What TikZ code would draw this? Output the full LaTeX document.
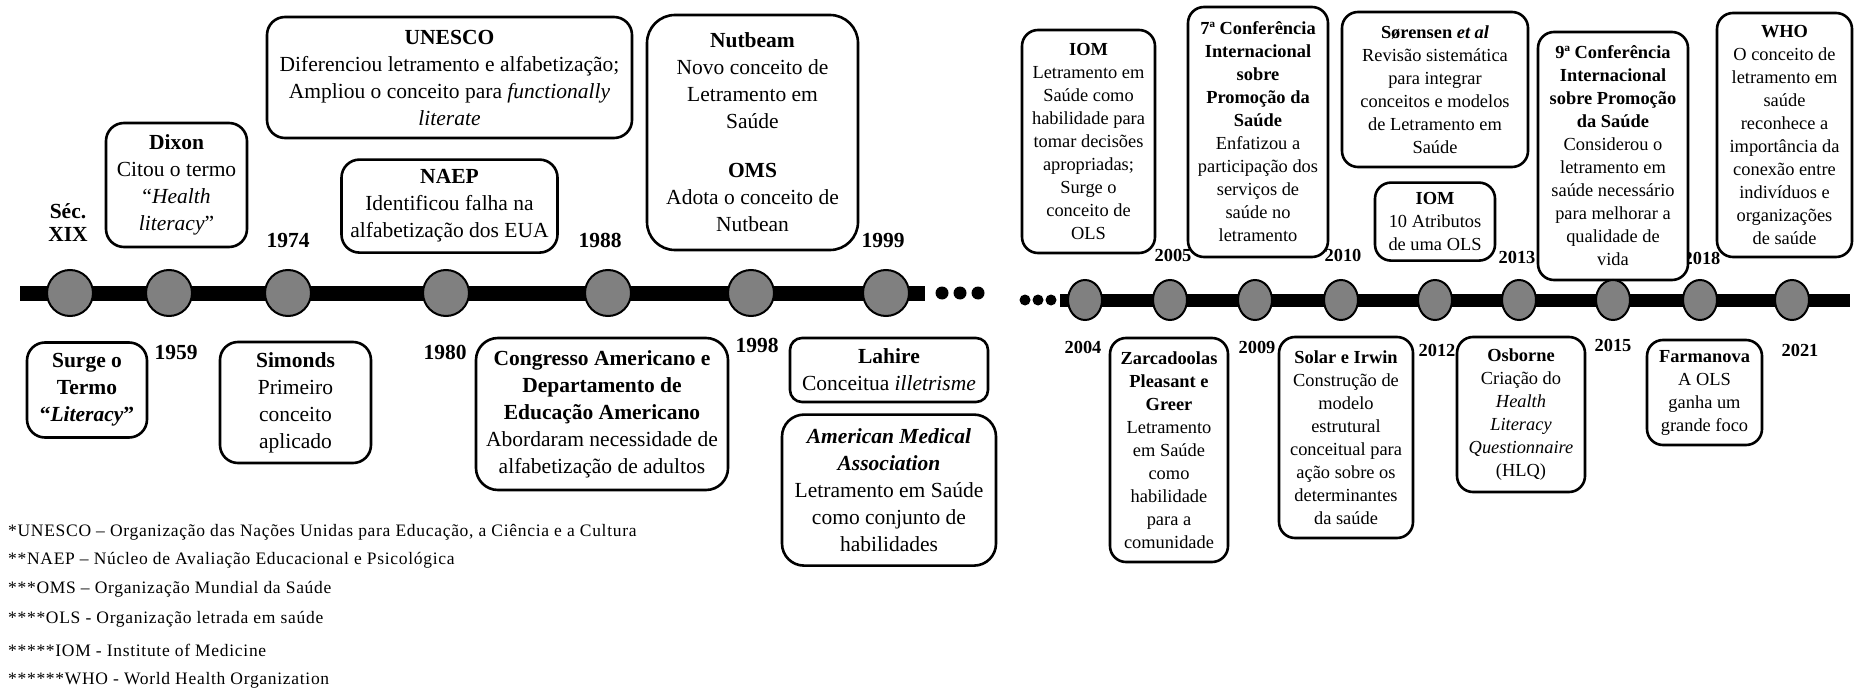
\documentclass[tikz,border=0pt]{standalone}
\usepackage{fontspec}
\setmainfont{Liberation Serif}
\newfontfamily\notefamily[LetterSpace=4]{Liberation Serif}
\usepackage{tikz}
\usetikzlibrary{shapes.geometric, positioning}
\definecolor{dotgray}{RGB}{128,128,128}
\newcommand{\bigtxt}{\fontsize{21.5bp}{27bp}\selectfont}
\newcommand{\smalltxt}{\fontsize{18.4bp}{23bp}\selectfont}
\newcommand{\notetxt}{\notefamily\fontsize{17.5bp}{20bp}\selectfont}
\tikzset{
  event/.style={rectangle, draw=black, fill=white, line width=2.6bp,
    rounded corners=18bp, align=center, inner sep=0pt, font=\bigtxt},
  smallevent/.style={event, rounded corners=16bp, font=\smalltxt},
  year/.style={inner sep=0pt, align=center,
    font=\fontsize{21.5bp}{23bp}\selectfont\bfseries},
  smallyear/.style={inner sep=0pt, font=\smalltxt\bfseries},
  bigdot/.style={circle, draw=black, fill=dotgray, line width=2bp,
    minimum size=46bp, inner sep=0pt},
  ovaldot/.style={ellipse, draw=black, fill=dotgray, line width=2bp,
    minimum width=34bp, minimum height=40bp, inner sep=0pt},
  smalldot/.style={circle, fill=black, minimum size=13bp, inner sep=0pt},
  note/.style={inner sep=0pt, anchor=west, font=\notetxt},
  timeline/.style={line width=15bp, black}
}

\begin{document}
\begin{tikzpicture}[x=1bp, y=-1bp]
  \useasboundingbox (0,0) rectangle (1854,690);
  % Years, first timeline
  \node[year] (ysec) at (68,223) {Séc.\\XIX};
  \node[year] (y1959) at (176,352) {1959};
  \node[year] (y1974) at (288,240) {1974};
  \node[year] (y1980) at (445,352) {1980};
  \node[year] (y1988) at (600,240) {1988};
  \node[year] (y1998) at (757,345) {1998};
  \node[year] (y1999) at (883,240) {1999};
  % Years, second timeline
  \node[smallyear] (y2004) at (1083,347) {2004};
  \node[smallyear] (y2005) at (1173,255) {2005};
  \node[smallyear] (y2009) at (1257,347) {2009};
  \node[smallyear] (y2010) at (1343,255) {2010};
  \node[smallyear] (y2012) at (1437,350) {2012};
  \node[smallyear] (y2013) at (1517,257) {2013};
  \node[smallyear] (y2015) at (1613,345) {2015};
  \node[smallyear] (y2018) at (1702,258) {2018};
  \node[smallyear] (y2021) at (1800,350) {2021};
  % Events above, first timeline
  \node[event, minimum width=141bp, minimum height=124bp] (dixon) at (176.5,185)
    {\textbf{Dixon}\\Citou o termo\\``\textit{Health}\\\textit{literacy}''};
  \node[event, minimum width=365bp, minimum height=121bp] (unesco) at (449.5,77.5)
    {\textbf{UNESCO}\\Diferenciou letramento e alfabetização;\\Ampliou o conceito para \textit{functionally}\\\textit{literate}};
  \node[event, minimum width=216bp, minimum height=93bp, below=19bp of unesco] (naep)
    {\textbf{NAEP}\\Identificou falha na\\alfabetização dos EUA};
  \node[event, rounded corners=28bp, minimum width=211bp, minimum height=235bp] (nutbeam) at (752.5,132.5)
    {\textbf{Nutbeam}\\Novo conceito de\\Letramento em\\Saúde\\[22bp]\textbf{OMS}\\Adota o conceito de\\Nutbean};
  % Events below, first timeline
  \node[event, minimum width=120bp, minimum height=95bp] (surge) at (87,390)
    {\textbf{Surge o}\\\textbf{Termo}\\\textbf{``\textit{Literacy}''}};
  \node[event, minimum width=151bp, minimum height=121bp] (simonds) at (295.5,402.5)
    {\textbf{Simonds}\\Primeiro\\conceito\\aplicado};
  \node[event, rounded corners=22bp, minimum width=252bp, minimum height=152bp] (congresso) at (602,414)
    {\textbf{Congresso Americano e}\\\textbf{Departamento de}\\\textbf{Educação Americano}\\Abordaram necessidade de\\alfabetização de adultos};
  \node[event, rounded corners=12bp, minimum width=198bp, minimum height=64bp] (lahire) at (889,370)
    {\textbf{Lahire}\\Conceitua \textit{illetrisme}};
  \node[event, rounded corners=22bp, minimum width=214bp, minimum height=151bp, below=10bp of lahire] (ama)
    {\textbf{\textit{American Medical}}\\\textbf{\textit{Association}}\\Letramento em Saúde\\como conjunto de\\habilidades};
  % Events above, second timeline
  \node[smallevent, minimum width=133bp, minimum height=223bp] (iomA) at (1088.5,141.5)
    {\textbf{IOM}\\Letramento em\\Saúde como\\habilidade para\\tomar decisões\\apropriadas;\\Surge o\\conceito de\\OLS};
  \node[smallevent, minimum width=140bp, minimum height=250bp] (confA) at (1258,132)
    {\textbf{7ª Conferência}\\\textbf{Internacional}\\\textbf{sobre}\\\textbf{Promoção da}\\\textbf{Saúde}\\Enfatizou a\\participação dos\\serviços de\\saúde no\\letramento};
  \node[smallevent, minimum width=186bp, minimum height=155bp] (sorensen) at (1435,89.5)
    {\textbf{Sørensen \textit{et al}}\\Revisão sistemática\\para integrar\\conceitos e modelos\\de Letramento em\\Saúde};
  \node[smallevent, minimum width=120bp, minimum height=78bp, below=13bp of sorensen] (iomB)
    {\textbf{IOM}\\10 Atributos\\de uma OLS};
  \node[smallevent, minimum width=150bp, minimum height=248bp] (confB) at (1613,156)
    {\textbf{9ª Conferência}\\\textbf{Internacional}\\\textbf{sobre Promoção}\\\textbf{da Saúde}\\Considerou o\\letramento em\\saúde necessário\\para melhorar a\\qualidade de\\vida};
  \node[smallevent, minimum width=135bp, minimum height=244bp] (who) at (1784.5,135)
    {\textbf{WHO}\\O conceito de\\letramento em\\saúde\\reconhece a\\importância da\\conexão entre\\indivíduos e\\organizações\\de saúde};
  % Events below, second timeline
  \node[smallevent, minimum width=118bp, minimum height=224bp] (zarca) at (1169,450)
    {\textbf{Zarcadoolas}\\\textbf{Pleasant e}\\\textbf{Greer}\\Letramento\\em Saúde\\como\\habilidade\\para a\\comunidade};
  \node[smallevent, minimum width=134bp, minimum height=201bp] (solar) at (1346,437.5)
    {\textbf{Solar e Irwin}\\Construção de\\modelo\\estrutural\\conceitual para\\ação sobre os\\determinantes\\da saúde};
  \node[smallevent, minimum width=128bp, minimum height=155bp] (osborne) at (1521,414.5)
    {\textbf{Osborne}\\Criação do\\\textit{Health}\\\textit{Literacy}\\\textit{Questionnaire}\\(HLQ)};
  \node[smallevent, minimum width=115bp, minimum height=105bp] (farmanova) at (1704.5,392.5)
    {\textbf{Farmanova}\\A OLS\\ganha um\\grande foco};
  % First timeline
  \coordinate (a0) at (20,293);
  \coordinate (a1) at (925,293);
  \draw[timeline] (a0) -- (a1);
  \foreach \x/\n in {70/c1,169/c2,288/c3,446/c4,608/c5,751/c6,886/c7}
    \node[bigdot] (\n) at (\x,293) {};
  \foreach \x/\n in {942/d1,960/d2,978/d3}
    \node[smalldot] (\n) at (\x,293) {};
  % Second timeline
  \coordinate (b0) at (1060,300);
  \coordinate (b1) at (1850,300);
  \draw[timeline, line width=13bp] (b0) -- (b1);
  \foreach \x/\n in {1085/e1,1170/e2,1255/e3,1341/e4,1435/e5,1519/e6,1613/e7,1700/e8,1792/e9}
    \node[ovaldot] (\n) at (\x,300) {};
  \foreach \x/\n in {1025/f1,1038/f2,1051/f3}
    \node[smalldot, minimum size=11bp] (\n) at (\x,300) {};
  % Footnotes
  \node[note] (n1) at (8,532) {*UNESCO – Organização das Nações Unidas para Educação, a Ciência e a Cultura};
  \node[note] (n2) at (8,560) {**NAEP – Núcleo de Avaliação Educacional e Psicológica};
  \node[note] (n3) at (8,589) {***OMS – Organização Mundial da Saúde};
  \node[note] (n4) at (8,619) {****OLS - Organização letrada em saúde};
  \node[note] (n5) at (8,650) {*****IOM - Institute of Medicine};
  \node[note] (n6) at (8,680) {******WHO - World Health Organization};
\end{tikzpicture}
\end{document}
